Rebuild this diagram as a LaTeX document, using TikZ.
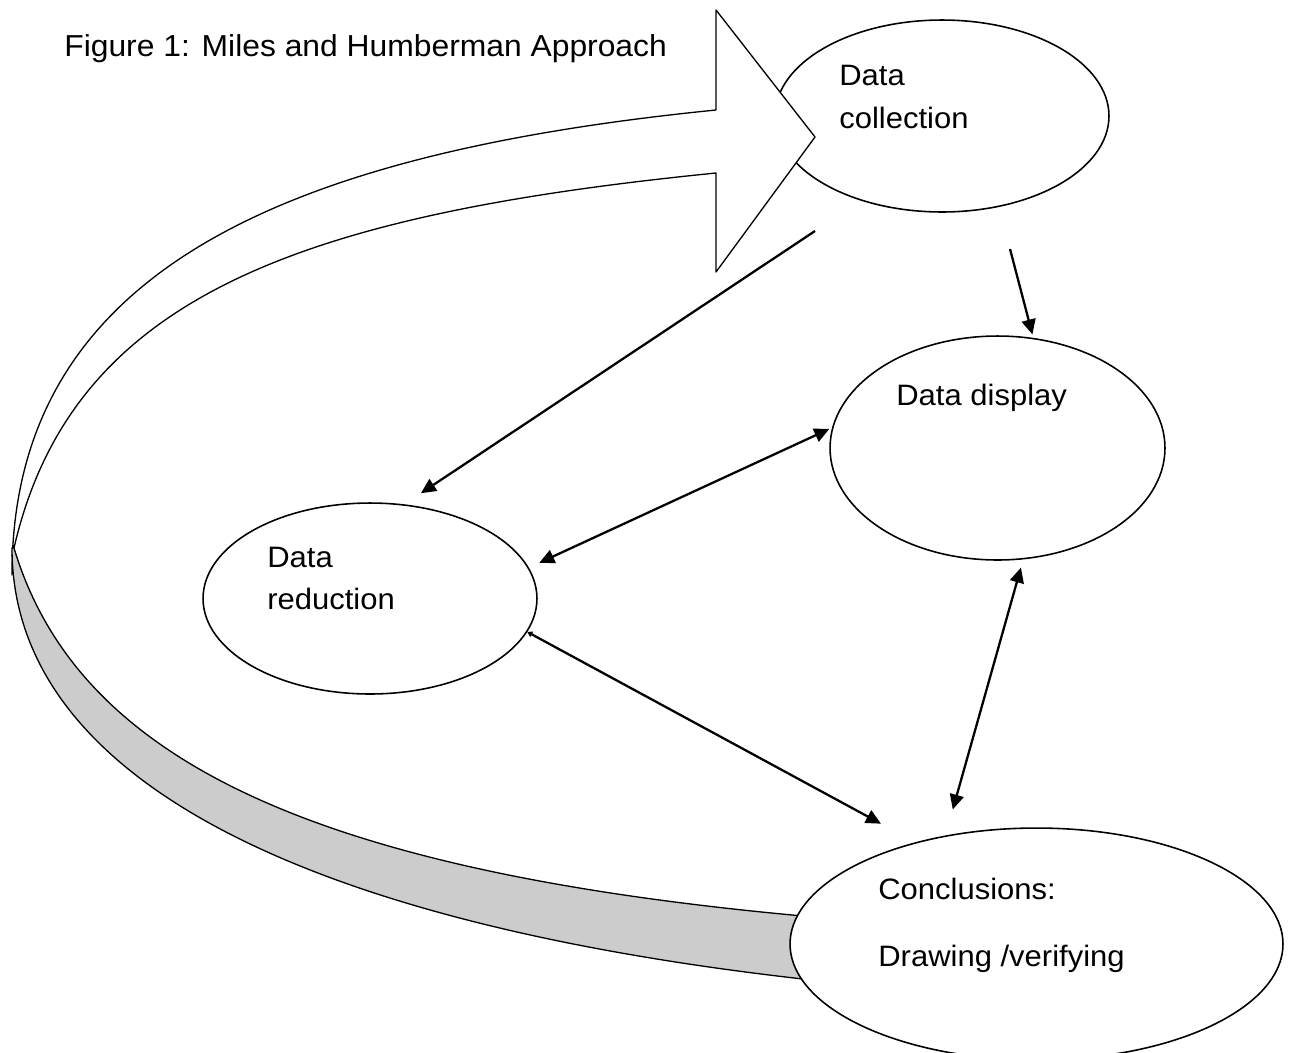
\documentclass[tikz,border=0pt]{standalone}
\usepackage{fontspec}
\setmainfont{Liberation Sans}[FakeStretch=1.05]
\usetikzlibrary{shapes.geometric,arrows.meta}
\definecolor{bandgray}{HTML}{CCCCCC}
\begin{document}
\begin{tikzpicture}[x=0.02cm,y=-0.02cm,
  ell/.style={ellipse,draw,line width=0.9pt,fill=white,inner sep=0pt},
  lbl/.style={anchor=base west,inner sep=0pt,font=\fontsize{16.8pt}{19pt}\selectfont},
  ttl/.style={anchor=base west,inner sep=0pt,font=\fontsize{17.25pt}{20pt}\selectfont},
  link/.style={line width=1.3pt,-{Triangle[length=0.3cm,width=0.28cm]}},
  dlink/.style={line width=1.3pt,{Triangle[length=0.3cm,width=0.28cm]}-{Triangle[length=0.3cm,width=0.28cm]}},
  band/.style={line width=0.75pt,line join=round}]
\useasboundingbox (0,0) rectangle (1293,1052);
\clip (0,0) rectangle (1293,1052);

% data collection (under the big arrow)
\node[ell,minimum width=6.68cm,minimum height=3.84cm] (coll) at (942,116) {};

% upper (white) part of the curved arrow with its head
\filldraw[band,fill=white] (716,10) -- (815,137) -- (716,272) -- (716,173)
  .. controls (296,215) and (71.5,298) .. (14,548) -- (12,575)
  .. controls (12,275) and (276,154) .. (716,110) -- cycle;

% lower (grey) part of the curved arrow
\filldraw[band,fill=bandgray] (12,548)
  .. controls (12,773) and (290,928) .. (850,984) -- (850,920)
  .. controls (320,877.6) and (78.5,763) .. (14,548) -- cycle;

% other ellipses
\node[ell,minimum width=6.70cm,minimum height=4.48cm] (disp) at (997.5,448) {};
\node[ell,minimum width=6.68cm,minimum height=3.82cm] (red) at (370,598.5) {};
\node[ell,minimum width=9.86cm,minimum height=4.64cm] (conc) at (1036.5,944) {};

% texts
\node[ttl] (title) at (64,56) {Figure 1: Miles and Humberman Approach};
\node[lbl] (t1) at (839,85) {Data};
\node[lbl] (t2) at (839,128) {collection};
\node[lbl] (t3) at (896,405) {Data display};
\node[lbl] (t4) at (267,567) {Data};
\node[lbl] (t5) at (267,609) {reduction};
\node[lbl] (t6) at (878,899) {Conclusions:};
\node[lbl] (t7) at (878,966) {Drawing /verifying};

% connectors
\coordinate (c1) at (815,231);
\coordinate (c2) at (1010,249);
\draw[link,shorten >=0.4cm] (c1) -- (red.70);
\draw[link,shorten >=0.07cm] (c2) -- (disp.72);
\draw[dlink,shorten <=0.23cm,shorten >=0.06cm] (red.11) -- (disp.173);
\draw[line width=1.3pt,{Triangle[length=0.1cm,width=0.12cm]}-{Triangle[length=0.3cm,width=0.28cm]},shorten >=0.78cm] (red.-12) -- (conc.140);
\draw[dlink,shorten <=0.17cm,shorten >=0.54cm] (disp.-77) -- (conc.130);
\end{tikzpicture}
\end{document}
